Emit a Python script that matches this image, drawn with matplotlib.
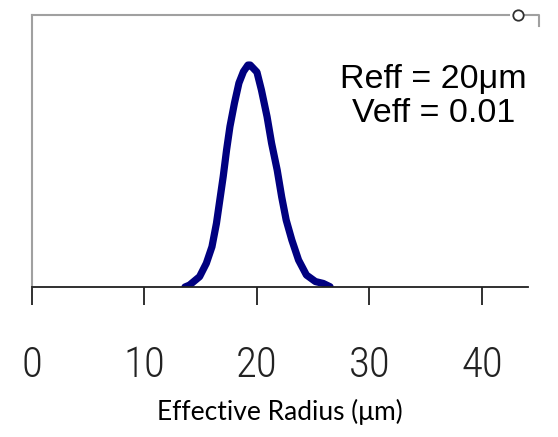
import numpy as np
import matplotlib.pyplot as plt

# size distribution (Reff = 20 um, Veff = 0.01)
radius = [13.6, 14.0, 14.9, 15.5, 16.0, 16.4, 16.7, 17.0, 17.3, 17.6,
          18.0, 18.4, 18.8, 19.2, 19.4, 20.0, 20.4, 20.9, 21.3, 21.8,
          22.2, 22.6, 23.1, 23.7, 24.4, 25.2, 25.9, 26.5]
freq = [0.000, 0.007, 0.038, 0.087, 0.148, 0.234, 0.320, 0.406, 0.504, 0.590,
        0.676, 0.750, 0.792, 0.816, 0.816, 0.790, 0.724, 0.626, 0.529, 0.430,
        0.331, 0.246, 0.173, 0.099, 0.044, 0.020, 0.013, 0.001]
xticks = [0, 10, 20, 30, 40]
xticklabels = ['0', '10', '20', '30', '40']


def main():
    fig = plt.figure(figsize=(5.58, 4.37), dpi=100)
    ax = fig.add_axes([32 / 558, 150 / 437, 496 / 558, 272 / 437])

    ax.plot(radius, freq, color='#000080', lw=5.2, solid_capstyle='round',
            solid_joinstyle='round')
    ax.set_xlim(0, 44.1)
    ax.set_ylim(0, 1)

    # frame: gray left/top, black bottom axis, no right side
    for s in ('left', 'top'):
        ax.spines[s].set_color('#a0a0a0')
        ax.spines[s].set_linewidth(1.5)
    ax.spines['bottom'].set_color('#202020')
    ax.spines['bottom'].set_linewidth(1.3)
    ax.spines['right'].set_visible(False)
    ax.spines['top'].set_bounds(0, 42.4)

    # little handle at the top right corner
    ax.plot([0.985, 1.022, 1.022], [1.0, 1.0, 0.96], color='#a0a0a0',
            lw=1.5, transform=ax.transAxes, clip_on=False)
    ax.plot([0.98], [1.0], marker='o', ms=7.5, mfc='white', mec='#303030',
            mew=1.3, transform=ax.transAxes, clip_on=False)

    ax.set_yticks([])
    ax.set_xticks(xticks)
    ax.set_xticklabels(xticklabels,
                       family=['Roboto Condensed', 'Liberation Sans Narrow', 'DejaVu Sans'],
                       fontsize=31, fontstretch='condensed', fontweight='light',
                       color='#222222')
    ax.tick_params(axis='x', direction='out', length=13, width=1.3,
                   color='#202020', pad=29)

    ax.set_xlabel('Effective Radius (\u03bcm)', family=['Lato', 'DejaVu Sans'],
                  fontsize=19)
    ax.xaxis.set_label_coords(0.5, -0.41)

    ax.text(0.81, 0.70, 'Reff = 20\u03bcm\nVeff = 0.01', transform=ax.transAxes,
            ha='center', va='center', fontsize=24.5, linespacing=1.12,
            family=['Liberation Sans', 'DejaVu Sans'])

    fig.savefig('out.png', dpi=100)


if __name__ == '__main__':
    main()
